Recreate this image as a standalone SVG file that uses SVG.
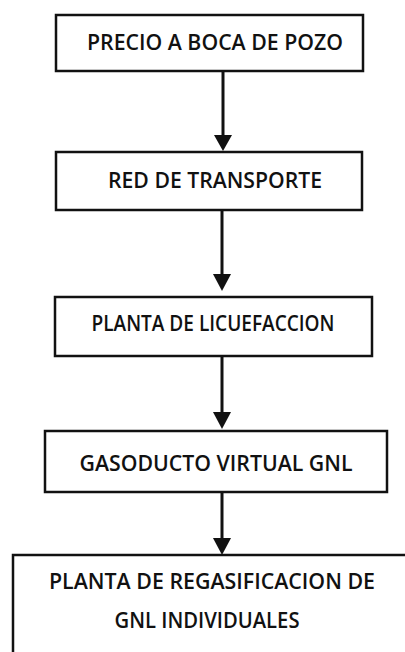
<svg xmlns="http://www.w3.org/2000/svg" width="405" height="652" viewBox="0 0 405 652">
<style>
.box{fill:#fff;stroke:#111;stroke-width:2.5}
.lbl{font-family:"Open Sans","Liberation Sans",sans-serif;font-weight:600;font-size:21px;fill:#111;text-anchor:middle}
.con{stroke:#111;stroke-width:3;fill:none}
</style>
<rect width="405" height="652" fill="#fff"/>
<g id="connectors">
<line class="con" x1="223" y1="71" x2="223" y2="136"/>
<path d="M214,135 L232,135 L223,151 Z" fill="#111"/>
<line class="con" x1="222" y1="210" x2="222" y2="275"/>
<path d="M213,274 L231,274 L222,291 Z" fill="#111"/>
<line class="con" x1="222" y1="356" x2="222" y2="413"/>
<path d="M213,412 L231,412 L222,429 Z" fill="#111"/>
<line class="con" x1="222" y1="492" x2="222" y2="539"/>
<path d="M213,538 L231,538 L222,555 Z" fill="#111"/>
</g>
<g id="n1">
<rect class="box" x="56" y="15" width="307" height="56"/>
<text class="lbl" x="215" y="50" textLength="256" lengthAdjust="spacingAndGlyphs">PRECIO A BOCA DE POZO</text>
</g>
<g id="n2">
<rect class="box" x="56" y="152" width="306" height="58"/>
<text class="lbl" x="215" y="188" textLength="214" lengthAdjust="spacingAndGlyphs">RED DE TRANSPORTE</text>
</g>
<g id="n3">
<rect class="box" x="55" y="297" width="317" height="59"/>
<text class="lbl" x="213" y="331" textLength="243" lengthAdjust="spacingAndGlyphs">PLANTA DE LICUEFACCION</text>
</g>
<g id="n4">
<rect class="box" x="45" y="431" width="342" height="61"/>
<text class="lbl" x="216" y="471" textLength="273" lengthAdjust="spacingAndGlyphs">GASODUCTO VIRTUAL GNL</text>
</g>
<g id="n5">
<path d="M407,555 H13 V652" class="box" fill="none"/>
<text class="lbl" x="212" y="589" textLength="326" lengthAdjust="spacingAndGlyphs">PLANTA DE REGASIFICACION DE</text>
<text class="lbl" x="207" y="628" textLength="185" lengthAdjust="spacingAndGlyphs">GNL INDIVIDUALES</text>
</g>
</svg>
